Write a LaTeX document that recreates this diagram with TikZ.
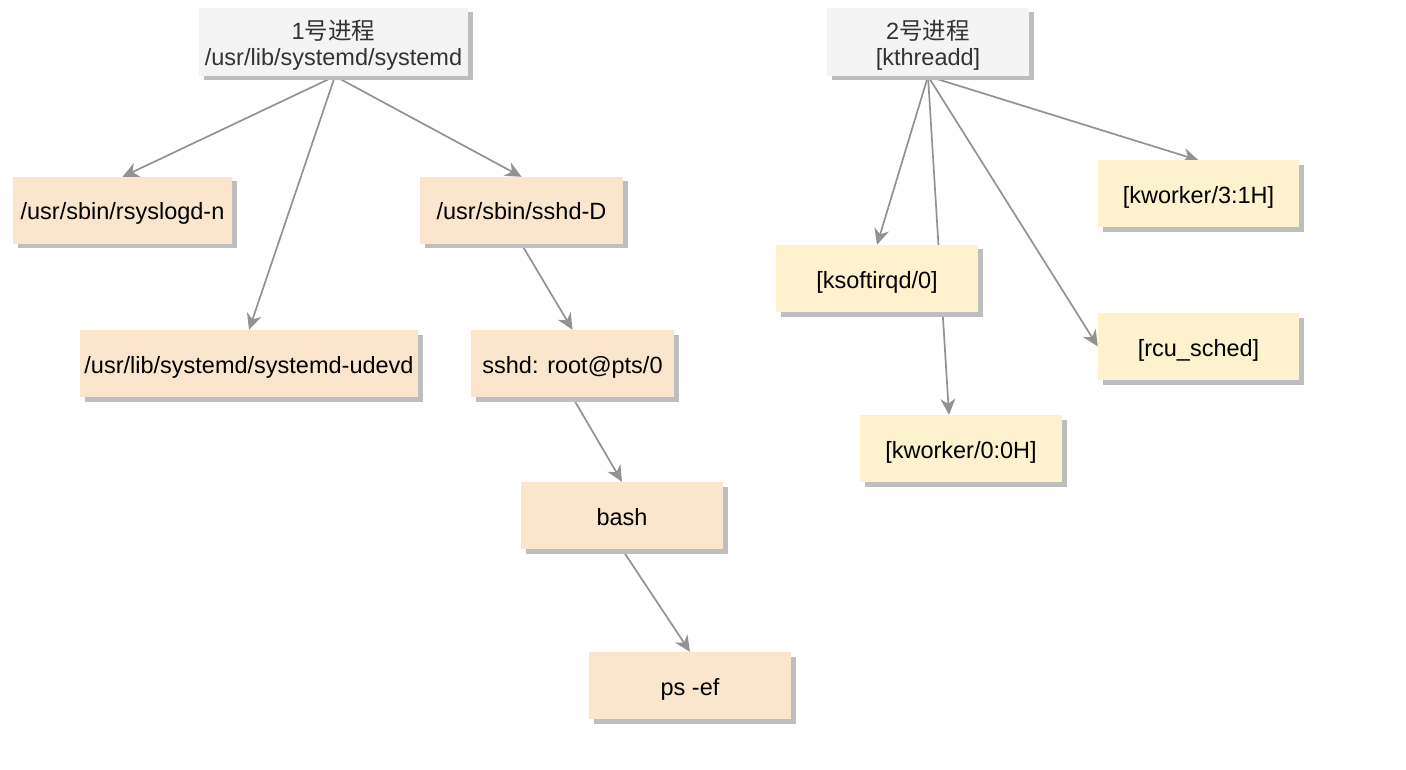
\documentclass[tikz,border=0pt]{standalone}
\usepackage{fontspec}
\setmainfont{Liberation Sans}
\newfontfamily\cjk{Noto Sans CJK SC}
\usetikzlibrary{arrows.meta,shadows}
\pgfdeclarelayer{bg}
\pgfsetlayers{bg,main}
\definecolor{orangec}{HTML}{FBE5CD}
\definecolor{yellowc}{HTML}{FDF1CE}
\definecolor{grayc}{HTML}{F4F4F4}
\definecolor{shadowc}{HTML}{BEBEBE}
\definecolor{edgec}{HTML}{929292}
\definecolor{toptext}{HTML}{333333}
\newcommand{\twolines}[2]{\raisebox{-11pt}[0pt][0pt]{\renewcommand{\arraystretch}{0.93}\begin{tabular}{@{}c@{}}#1\\{}#2\end{tabular}}}
\begin{document}
\begin{tikzpicture}[x=1pt,y=-1pt,
  proc/.style={inner sep=0pt, minimum height=67pt, align=center,
    font=\fontsize{23.5}{27.5}\selectfont,
    drop shadow={shadow xshift=4.5pt, shadow yshift=-4.5pt, fill=shadowc, opacity=1}},
  obox/.style={proc, fill=orangec, text=black, text height=22pt, text depth=3pt},
  ybox/.style={proc, fill=yellowc, text=black, text height=22pt, text depth=3pt},
  gbox/.style={proc, fill=grayc, text=toptext, minimum height=68pt},
  link/.style={draw=edgec, line width=1.7pt, -{Stealth[length=16pt,width=15pt,inset=5pt]}}]
\useasboundingbox (0,0) rectangle (1406,770);
% left tree
\node[gbox, minimum width=269pt] (p1) at (333.5,42) {\twolines{1{\cjk 号进程}}{/usr/lib/systemd/systemd}};
\node[obox, minimum width=219pt] (rsys) at (122.5,210.5) {/usr/sbin/rsyslogd-n};
\node[obox, minimum width=338pt] (udev) at (249,363.5) {/usr/lib/systemd/systemd-udevd};
\node[obox, minimum width=203pt] (sshdD) at (521.5,210.5) {/usr/sbin/sshd-D};
\node[obox, minimum width=203pt] (sshdr) at (572.5,363.5) {sshd: root@pts/0};
\node[obox, minimum width=202pt] (bash) at (622,515.5) {bash};
\node[obox, minimum width=202pt] (ps) at (690,685.5) {ps -ef};
% right tree
\node[gbox, minimum width=202pt] (p2) at (928,42) {\twolines{2{\cjk 号进程}}{[kthreadd]}};
\node[ybox, minimum width=202pt] (ksoft) at (877,278.5) {[ksoftirqd/0]};
\node[ybox, minimum width=202pt] (kw0) at (961,448.5) {[kworker/0:0H]};
\node[ybox, minimum width=201pt] (rcu) at (1198.5,346.5) {[rcu\_sched]};
\node[ybox, minimum width=201pt] (kw3) at (1198.5,194) {[kworker/3:1H]};
\begin{pgfonlayer}{bg}
\draw[link] ([xshift=1.5pt]p1.south) -- (rsys.north);
\draw[link] ([xshift=1.5pt]p1.south) -- (udev.north);
\draw[link] ([xshift=1.5pt]p1.south) -- (sshdD.north);
\draw[link] (sshdD.south) -- (sshdr.north);
\draw[link] (sshdr.south) -- (bash.north);
\draw[link] (bash.south) -- (ps.north);
\draw[link] (p2.south) -- (ksoft.north);
\draw[link] (p2.south) -- ([xshift=-12pt]kw0.north);
\draw[link] (p2.south) -- (rcu.west);
\draw[link] (p2.south) -- (kw3.north);
\end{pgfonlayer}
\end{tikzpicture}
\end{document}
